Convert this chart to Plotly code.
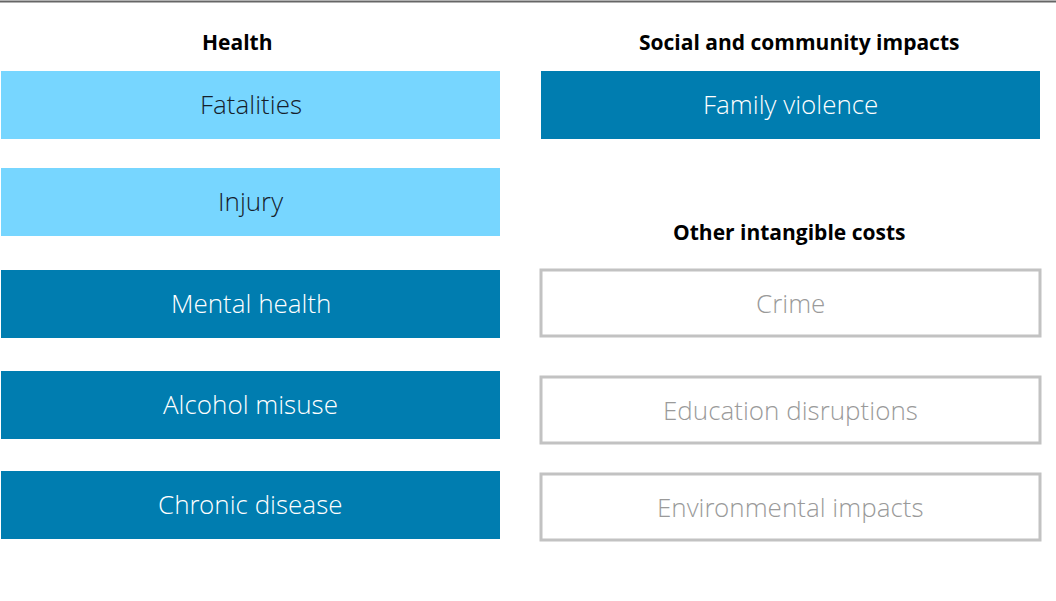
import plotly.graph_objects as go

# ---- data ----
health_items = ["Fatalities", "Injury", "Mental health", "Alcohol misuse", "Chronic disease"]
health_kind = ["light", "light", "dark", "dark", "dark"]
social_items = ["Family violence"]
other_items = ["Crime", "Education disruptions", "Environmental impacts"]
headers = ["Health", "Social and community impacts", "Other intangible costs"]

# ---- layout (pixel-like units) ----
W, H = 1056, 601
left_x = (1, 500)
right_x = (541, 1040)
health_tops = [71, 168, 270, 371, 471]
social_tops = [71]
other_tops = [270, 377, 474]
box_h = 68
header_pos = [(237, 42), (799, 42), (789, 232)]

LIGHT = "#77D6FF"
DARK = "#007DB0"
GREY_LINE = "#C2C2C2"
BOX_FONT = "Open Sans Light, Open Sans"

shapes = []
annotations = []

def add_box(x, top, text, style):
    if style == "outline":
        shapes.append(dict(type="rect", xref="x", yref="y", x0=x[0], x1=x[1], y0=top, y1=top + box_h - 2,
                           fillcolor="white", line=dict(color=GREY_LINE, width=3), layer="below"))
        color = "#9A9A9A"
    else:
        shapes.append(dict(type="rect", xref="x", yref="y", x0=x[0], x1=x[1], y0=top, y1=top + box_h,
                           fillcolor=LIGHT if style == "light" else DARK, line=dict(width=0), layer="below"))
        color = "#15202B" if style == "light" else "white"
    annotations.append(dict(xref="x", yref="y", x=(x[0] + x[1]) / 2, y=top + box_h / 2 - 1, text=text,
                            showarrow=False, xanchor="center", yanchor="middle",
                            font=dict(family=BOX_FONT, size=26, color=color, weight=300)))

for t, k, top in zip(health_items, health_kind, health_tops):
    add_box(left_x, top, t, k)
for t, top in zip(social_items, social_tops):
    add_box(right_x, top, t, "dark")
for t, top in zip(other_items, other_tops):
    add_box(right_x, top, t, "outline")

for t, (hx, hy) in zip(headers, header_pos):
    annotations.append(dict(xref="x", yref="y", x=hx, y=hy, text="<b>" + t + "</b>", showarrow=False,
                            xanchor="center", yanchor="middle",
                            font=dict(family="Open Sans", size=21, color="black")))

# top rule
shapes.append(dict(type="line", xref="x", yref="y", x0=0, x1=W, y0=1.5, y1=1.5,
                   line=dict(color="#666666", width=2)))

fig = go.Figure()
fig.add_trace(go.Scatter(x=[0, W], y=[0, H], mode="markers", marker=dict(opacity=0), hoverinfo="skip",
                         showlegend=False))
fig.update_layout(
    width=W, height=H, margin=dict(l=0, r=0, t=0, b=0),
    paper_bgcolor="white", plot_bgcolor="white",
    xaxis=dict(range=[0, W], visible=False, fixedrange=True),
    yaxis=dict(range=[H, 0], visible=False, fixedrange=True),
    shapes=shapes, annotations=annotations, showlegend=False,
    hovermode=False,
)
fig.write_html("out.html", config={"displayModeBar": False, "staticPlot": True})

# remove default page margin so the figure sits at the window origin
with open("out.html", "r", encoding="utf-8") as f:
    html = f.read()
html = html.replace("<head>", "<head><style>html,body{margin:0;padding:0;overflow:hidden;}</style>", 1)
with open("out.html", "w", encoding="utf-8") as f:
    f.write(html)
